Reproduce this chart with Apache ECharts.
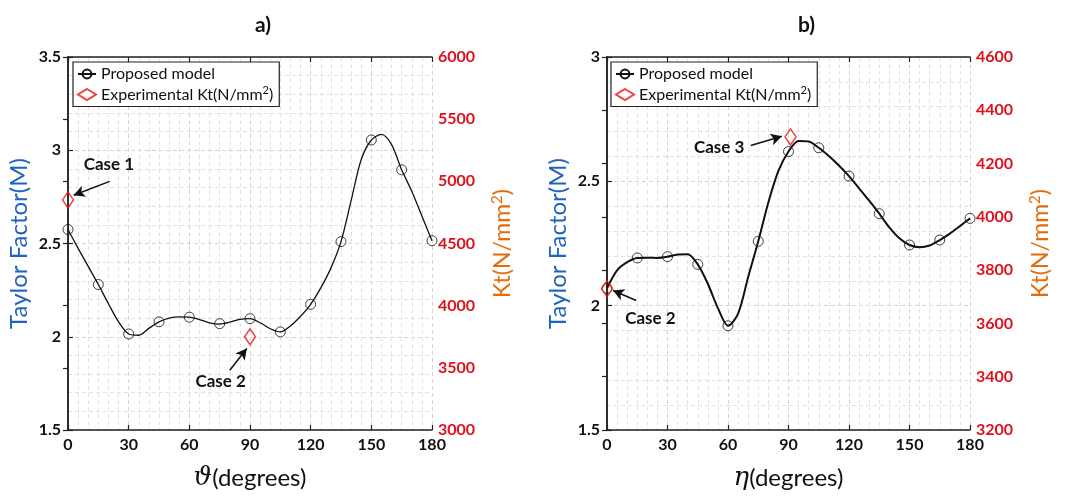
<!DOCTYPE html>
<html><head><meta charset="utf-8">
<script src="https://cdn.jsdelivr.net/npm/echarts@6/dist/echarts.min.js"></script>
<style>html,body{margin:0;padding:0;background:#fff}#c{width:1070px;height:496px}</style>
</head><body><div id="c"></div>
<script>
// ---- data ----
// model points (markers)
const angles = [0, 15, 30, 45, 60, 75, 90, 105, 120, 135, 150, 165, 180];
const taylorA = [2.575, 2.28, 2.015, 2.08, 2.105, 2.07, 2.097, 2.026, 2.174, 2.51, 3.055, 2.895, 2.515];
const taylorB = [2.07, 2.192, 2.197, 2.166, 1.919, 2.259, 2.62, 2.635, 2.521, 2.37, 2.244, 2.264, 2.351];
// fitted curve every 5 degrees
const curveAngles = [0, 5, 10, 15, 20, 25, 30, 35, 40, 45, 50, 55, 60, 65, 70, 75, 80, 85, 90,
  95, 100, 105, 110, 115, 120, 125, 130, 135, 140, 145, 150, 155, 160, 165, 170, 175, 180];
const curveA = [2.575, 2.474, 2.377, 2.28, 2.177, 2.08, 2.015, 2.008, 2.045, 2.08, 2.1, 2.107, 2.105,
  2.092, 2.075, 2.068, 2.078, 2.093, 2.097, 2.075, 2.043, 2.026, 2.058, 2.11, 2.174, 2.262, 2.368,
  2.51, 2.73, 2.95, 3.055, 3.085, 3.03, 2.895, 2.78, 2.648, 2.515];
const curveB = [2.07, 2.142, 2.175, 2.192, 2.193, 2.192, 2.197, 2.206, 2.207, 2.166, 2.088, 1.99,
  1.919, 1.968, 2.115, 2.259, 2.415, 2.542, 2.62, 2.662, 2.66, 2.635, 2.602, 2.564, 2.521, 2.472,
  2.422, 2.37, 2.315, 2.271, 2.244, 2.235, 2.242, 2.264, 2.29, 2.32, 2.351];
// experimental Kt
const expAngleA = [0, 90];
const expKtA = [4850, 3750];
const expAngleB = [0, 91];
const expKtB = [3730, 4300];
// axis ranges [min, max, interval]
const xTicks = [0, 180, 30];
const yLeftA = [1.5, 3.5, 0.5];
const yRightA = [3000, 6000, 500];
const yLeftB = [1.5, 3.0, 0.5];
const yRightB = [3200, 4600, 200];
const nameModel = 'Proposed model';
const nameExp = 'Experimental Kt(N/mm²)';

const FONT = 'Lato';
const axisColor = '#222';
const grids = [{left: 68, top: 57, width: 364, height: 375}, {left: 607, top: 57, width: 363, height: 375}];

function xBottom(g, sym) {
  return {
    type: 'value', gridIndex: g, position: 'bottom', min: xTicks[0], max: xTicks[1], interval: xTicks[2],
    axisLine: {show: true, lineStyle: {color: axisColor, width: 1.5}},
    axisTick: {show: true, inside: true, length: 5, lineStyle: {color: axisColor, width: 1.2}},
    axisLabel: {color: '#111', fontWeight: 'bold', fontSize: 16, fontFamily: FONT, margin: 7},
    splitLine: {show: true, lineStyle: {color: '#d4d4d4', type: [4, 3], width: 1}},
    minorTick: {show: false, splitNumber: 6},
    minorSplitLine: {show: true, lineStyle: {color: '#e2e2e2', type: [4, 3], width: 1}},
    name: '{s|' + sym + '}(degrees)', nameLocation: 'middle', nameGap: 35,
    nameTextStyle: {fontSize: 24, fontFamily: FONT, color: '#111',
      rich: {s: {fontSize: 26, fontStyle: 'italic', fontFamily: 'DejaVu Serif', color: '#111'}}}
  };
}
function xTop(g) {
  return {
    type: 'value', gridIndex: g, position: 'top', min: xTicks[0], max: xTicks[1], interval: xTicks[2],
    axisLine: {show: true, lineStyle: {color: axisColor, width: 1.5}},
    axisTick: {show: true, inside: true, length: 5, lineStyle: {color: axisColor, width: 1.2}},
    axisLabel: {show: false}, splitLine: {show: false}
  };
}
function yLeft(g, r) {
  return {
    type: 'value', gridIndex: g, position: 'left', min: r[0], max: r[1], interval: r[2],
    axisLine: {show: true, lineStyle: {color: axisColor, width: 1.5}},
    axisTick: {show: true, inside: true, length: 5, lineStyle: {color: axisColor, width: 1.2}},
    axisLabel: {color: '#111', fontWeight: 'bold', fontSize: 16, fontFamily: FONT, margin: 7},
    splitLine: {show: true, lineStyle: {color: '#d4d4d4', type: [4, 3], width: 1}},
    minorTick: {show: false, splitNumber: 5},
    minorSplitLine: {show: true, lineStyle: {color: '#e2e2e2', type: [4, 3], width: 1}},
    name: 'Taylor Factor(M)', nameLocation: 'middle', nameGap: 37,
    nameTextStyle: {fontSize: 24, fontFamily: FONT, color: '#1f63c0'}
  };
}
function yRight(g, r) {
  return {
    type: 'value', gridIndex: g, position: 'right', min: r[0], max: r[1], interval: r[2],
    axisLine: {show: true, lineStyle: {color: axisColor, width: 1.5}},
    axisTick: {show: true, inside: true, length: 5, lineStyle: {color: axisColor, width: 1.2}},
    axisLabel: {color: '#e0101a', fontWeight: 'bold', fontSize: 16, fontFamily: FONT, margin: 6,
      formatter: v => String(v)},
    splitLine: {show: false},
    name: 'Kt(N/mm{sup|2})', nameLocation: 'middle', nameGap: 58,
    nameTextStyle: {fontSize: 23, fontFamily: FONT, color: '#e46c0a',
      rich: {sup: {fontSize: 15, fontFamily: FONT, color: '#e46c0a', verticalAlign: 'top', padding: [0, 0, 10, 0]}}}
  };
}
function pair(xs, ys) { return xs.map((x, i) => [x, ys[i]]); }
function arrow(a, b) { return [{coord: a}, {coord: b}]; }
function caseLabel(text, c) {
  return {coord: c, value: text, symbolSize: 0,
    label: {show: true, position: 'inside', formatter: text, color: '#111', fontWeight: 'bold', fontSize: 17, fontFamily: FONT}};
}
const hollow = {color: 'rgba(255,255,255,0)', borderColor: '#111', borderWidth: 1};

function curveSeries(xi, yi, ys, width, arrows, labels) {
  return {
    name: nameModel, type: 'line', xAxisIndex: xi, yAxisIndex: yi, data: pair(curveAngles, ys),
    smooth: 0.3, symbol: 'circle', symbolSize: 10, showSymbol: false,
    lineStyle: {color: '#111', width: width}, itemStyle: hollow,
    emphasis: {disabled: true}, z: 3,
    markLine: {silent: true, symbol: ['none', 'arrow'], symbolSize: [9, 11], label: {show: false},
      lineStyle: {color: '#111', width: 1.5, type: 'solid'}, data: arrows},
    markPoint: {silent: true, data: labels}
  };
}
function markerSeries(xi, yi, ys) {
  return {
    name: nameModel, type: 'scatter', xAxisIndex: xi, yAxisIndex: yi, data: pair(angles, ys),
    symbol: 'circle', symbolSize: 10, itemStyle: hollow, emphasis: {disabled: true}, z: 4
  };
}
function expSeries(xi, yi, xs, ys) {
  return {
    name: nameExp, type: 'scatter', xAxisIndex: xi, yAxisIndex: yi, data: pair(xs, ys),
    symbol: 'diamond', symbolSize: [11, 16],
    itemStyle: {color: 'rgba(255,255,255,0)', borderColor: '#ee1111', borderWidth: 1.5}, z: 5,
    emphasis: {disabled: true}
  };
}
function legend(left) {
  return {
    orient: 'vertical', left: left, top: 62, padding: [4, 6, 4, 4], itemGap: 3,
    backgroundColor: '#fff', borderColor: '#222', borderWidth: 1.2,
    itemWidth: 18, itemHeight: 11,
    data: [nameModel, nameExp],
    formatter: n => n === nameExp ? 'Experimental Kt(N/mm{sup|2})' : n,
    textStyle: {fontSize: 16, fontFamily: FONT, color: '#111',
      rich: {sup: {fontSize: 11, fontFamily: FONT, color: '#111', verticalAlign: 'top', padding: [0, 0, 8, 0]}}}
  };
}

const chart = echarts.init(document.getElementById('c'), null, {renderer: 'canvas'});
chart.setOption({
  backgroundColor: '#fff',
  animation: false,
  title: [
    {text: 'a)', left: 250, top: 10, textStyle: {fontSize: 21, fontWeight: 'bold', fontFamily: FONT, color: '#111'}},
    {text: 'b)', left: 793, top: 10, textStyle: {fontSize: 21, fontWeight: 'bold', fontFamily: FONT, color: '#111'}}
  ],
  legend: [legend(73), legend(611)],
  grid: grids,
  xAxis: [xBottom(0, 'ϑ'), xTop(0), xBottom(1, 'η'), xTop(1)],
  yAxis: [yLeft(0, yLeftA), yRight(0, yRightA), yLeft(1, yLeftB), yRight(1, yRightB)],
  series: [
    curveSeries(0, 0, curveA, 1.3,
      [arrow([20.6, 2.833], [2.8, 2.759]), arrow([80, 1.82], [88.4, 1.937])],
      [caseLabel('Case 1', [20.2, 2.924]), caseLabel('Case 2', [75.5, 1.761])]),
    markerSeries(0, 0, taylorA),
    expSeries(0, 1, expAngleA, expKtA),
    curveSeries(2, 2, curveB, 2,
      [arrow([71.3, 2.644], [86.7, 2.681]), arrow([14.5, 2.021], [3.0, 2.061])],
      [caseLabel('Case 3', [55.6, 2.636]), caseLabel('Case 2', [21.5, 1.948])]),
    markerSeries(2, 2, taylorB),
    expSeries(2, 3, expAngleB, expKtB)
  ]
});
</script>
</body></html>
